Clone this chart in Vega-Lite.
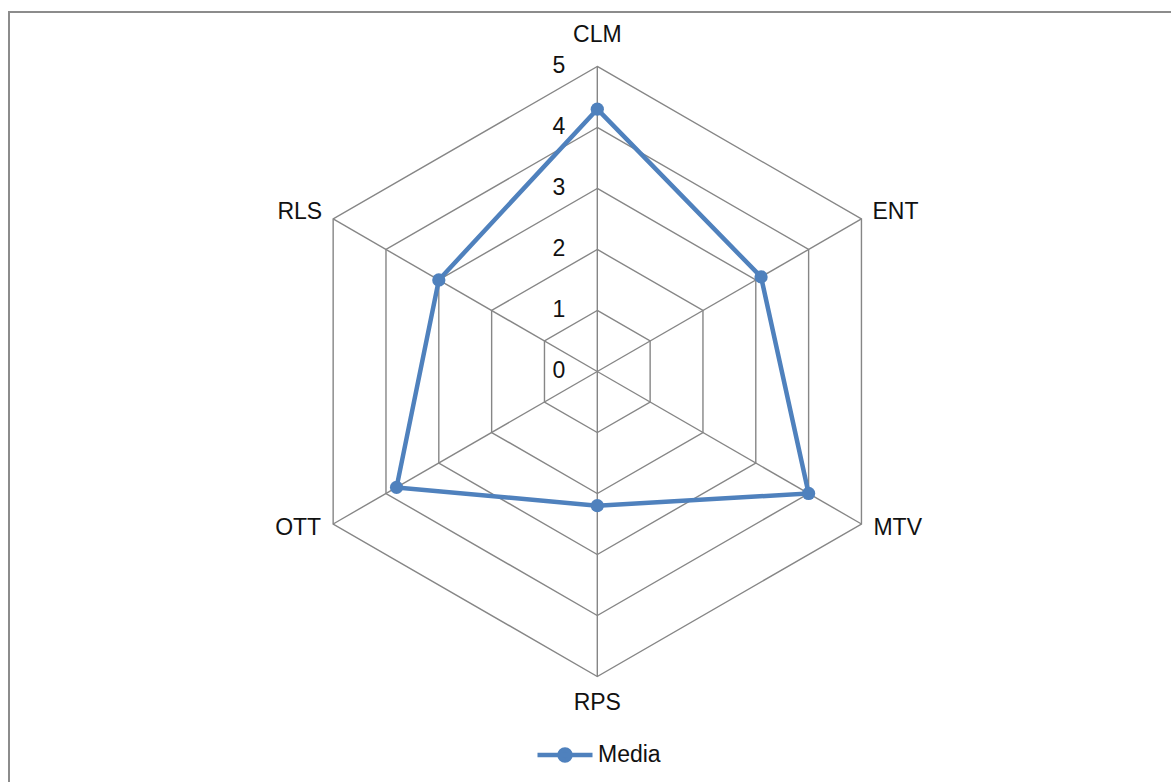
{
  "$schema": "https://vega.github.io/schema/vega-lite/v6.json",
  "width": 1168,
  "height": 776,
  "autosize": {"type": "none"},
  "padding": {"left": 9, "top": 12, "right": -6, "bottom": -6},
  "background": "white",
  "config": {
    "view": {"stroke": "#8c8c8c", "strokeWidth": 2},
    "font": "Liberation Sans",
    "text": {"font": "Liberation Sans", "fontSize": 23, "color": "#111"}
  },
  "datasets": {
    "media": [
      {"axis": "CLM", "idx": 0, "value": 4.3, "series": "Media"},
      {"axis": "ENT", "idx": 1, "value": 3.1, "series": "Media"},
      {"axis": "MTV", "idx": 2, "value": 4.0, "series": "Media"},
      {"axis": "RPS", "idx": 3, "value": 2.2, "series": "Media"},
      {"axis": "OTT", "idx": 4, "value": 3.8, "series": "Media"},
      {"axis": "RLS", "idx": 5, "value": 3.0, "series": "Media"}
    ],
    "levels": [
      {"level": 0, "idx": [0, 1, 2, 3, 4, 5]},
      {"level": 1, "idx": [0, 1, 2, 3, 4, 5]},
      {"level": 2, "idx": [0, 1, 2, 3, 4, 5]},
      {"level": 3, "idx": [0, 1, 2, 3, 4, 5]},
      {"level": 4, "idx": [0, 1, 2, 3, 4, 5]},
      {"level": 5, "idx": [0, 1, 2, 3, 4, 5]}
    ]
  },
  "layer": [
    {
      "data": {"name": "levels"},
      "transform": [
        {"flatten": ["idx"]},
        {"filter": "datum.level > 0"},
        {"calculate": "datum.level * sin(datum.idx * PI / 3)", "as": "gx"},
        {"calculate": "datum.level * cos(datum.idx * PI / 3)", "as": "gy"}
      ],
      "mark": {"type": "line", "interpolate": "linear-closed", "stroke": "#868686", "strokeWidth": 1.4},
      "encoding": {
        "x": {"field": "gx", "type": "quantitative", "scale": {"domain": [-9.644, 9.503], "nice": false, "zero": false}, "axis": null},
        "y": {"field": "gy", "type": "quantitative", "scale": {"domain": [-6.828, 5.893], "nice": false, "zero": false}, "axis": null},
        "detail": {"field": "level", "type": "nominal"},
        "order": {"field": "idx", "type": "quantitative"}
      }
    },
    {
      "data": {"name": "media"},
      "transform": [
        {"calculate": "5 * sin(datum.idx * PI / 3)", "as": "sx"},
        {"calculate": "5 * cos(datum.idx * PI / 3)", "as": "sy"}
      ],
      "mark": {"type": "rule", "stroke": "#868686", "strokeWidth": 1.4},
      "encoding": {
        "x": {"field": "sx", "type": "quantitative"},
        "y": {"field": "sy", "type": "quantitative"},
        "x2": {"datum": 0},
        "y2": {"datum": 0}
      }
    },
    {
      "data": {"name": "media"},
      "transform": [
        {"calculate": "datum.value * sin(datum.idx * PI / 3)", "as": "px"},
        {"calculate": "datum.value * cos(datum.idx * PI / 3)", "as": "py"}
      ],
      "mark": {"type": "line", "interpolate": "linear-closed", "strokeWidth": 4.5},
      "encoding": {
        "x": {"field": "px", "type": "quantitative"},
        "y": {"field": "py", "type": "quantitative"},
        "order": {"field": "idx", "type": "quantitative"},
        "stroke": {
          "field": "series",
          "type": "nominal",
          "scale": {"range": ["#4F81BD"]},
          "legend": {
            "orient": "none",
            "legendX": 526,
            "legendY": 713,
            "title": null,
            "padding": 0,
            "symbolType": "M-1,0L1,0M-0.2,0A0.2,0.2 0 1,1 0.2,0A0.2,0.2 0 1,1 -0.2,0Z",
            "symbolSize": 3025,
            "symbolStrokeWidth": 4.5,
            "labelFontSize": 23,
            "labelFont": "Liberation Sans",
            "labelColor": "#111",
            "labelOffset": 3,
            "encode": {"symbols": {"update": {"fill": {"value": "#4F81BD"}, "stroke": {"value": "#4F81BD"}}}}
          }
        }
      }
    },
    {
      "data": {"name": "media"},
      "transform": [
        {"calculate": "datum.value * sin(datum.idx * PI / 3)", "as": "px"},
        {"calculate": "datum.value * cos(datum.idx * PI / 3)", "as": "py"}
      ],
      "mark": {"type": "point", "filled": true, "size": 175, "color": "#4F81BD", "opacity": 1},
      "encoding": {
        "x": {"field": "px", "type": "quantitative"},
        "y": {"field": "py", "type": "quantitative"}
      }
    },
    {
      "data": {"name": "levels"},
      "mark": {"type": "text", "align": "right", "baseline": "middle", "dx": -32},
      "encoding": {
        "x": {"datum": 0},
        "y": {"field": "level", "type": "quantitative"},
        "text": {"field": "level", "type": "nominal"}
      }
    },
    {
      "data": {"name": "media"},
      "transform": [
        {"filter": "datum.idx == 0"},
        {"calculate": "5 * sin(datum.idx * PI / 3)", "as": "sx"},
        {"calculate": "5 * cos(datum.idx * PI / 3)", "as": "sy"}
      ],
      "mark": {"type": "text", "align": "center", "baseline": "middle", "dy": -31},
      "encoding": {
        "x": {"field": "sx", "type": "quantitative"},
        "y": {"field": "sy", "type": "quantitative"},
        "text": {"field": "axis", "type": "nominal"}
      }
    },
    {
      "data": {"name": "media"},
      "transform": [
        {"filter": "datum.idx == 3"},
        {"calculate": "5 * sin(datum.idx * PI / 3)", "as": "sx"},
        {"calculate": "5 * cos(datum.idx * PI / 3)", "as": "sy"}
      ],
      "mark": {"type": "text", "align": "center", "baseline": "middle", "dy": 27},
      "encoding": {
        "x": {"field": "sx", "type": "quantitative"},
        "y": {"field": "sy", "type": "quantitative"},
        "text": {"field": "axis", "type": "nominal"}
      }
    },
    {
      "data": {"name": "media"},
      "transform": [
        {"filter": "datum.idx == 1"},
        {"calculate": "5 * sin(datum.idx * PI / 3)", "as": "sx"},
        {"calculate": "5 * cos(datum.idx * PI / 3)", "as": "sy"}
      ],
      "mark": {"type": "text", "align": "left", "baseline": "middle", "dx": 11, "dy": -7},
      "encoding": {
        "x": {"field": "sx", "type": "quantitative"},
        "y": {"field": "sy", "type": "quantitative"},
        "text": {"field": "axis", "type": "nominal"}
      }
    },
    {
      "data": {"name": "media"},
      "transform": [
        {"filter": "datum.idx == 2"},
        {"calculate": "5 * sin(datum.idx * PI / 3)", "as": "sx"},
        {"calculate": "5 * cos(datum.idx * PI / 3)", "as": "sy"}
      ],
      "mark": {"type": "text", "align": "left", "baseline": "middle", "dx": 12, "dy": 4},
      "encoding": {
        "x": {"field": "sx", "type": "quantitative"},
        "y": {"field": "sy", "type": "quantitative"},
        "text": {"field": "axis", "type": "nominal"}
      }
    },
    {
      "data": {"name": "media"},
      "transform": [
        {"filter": "datum.idx == 4"},
        {"calculate": "5 * sin(datum.idx * PI / 3)", "as": "sx"},
        {"calculate": "5 * cos(datum.idx * PI / 3)", "as": "sy"}
      ],
      "mark": {"type": "text", "align": "right", "baseline": "middle", "dx": -12, "dy": 4},
      "encoding": {
        "x": {"field": "sx", "type": "quantitative"},
        "y": {"field": "sy", "type": "quantitative"},
        "text": {"field": "axis", "type": "nominal"}
      }
    },
    {
      "data": {"name": "media"},
      "transform": [
        {"filter": "datum.idx == 5"},
        {"calculate": "5 * sin(datum.idx * PI / 3)", "as": "sx"},
        {"calculate": "5 * cos(datum.idx * PI / 3)", "as": "sy"}
      ],
      "mark": {"type": "text", "align": "right", "baseline": "middle", "dx": -11, "dy": -7},
      "encoding": {
        "x": {"field": "sx", "type": "quantitative"},
        "y": {"field": "sy", "type": "quantitative"},
        "text": {"field": "axis", "type": "nominal"}
      }
    }
  ]
}
